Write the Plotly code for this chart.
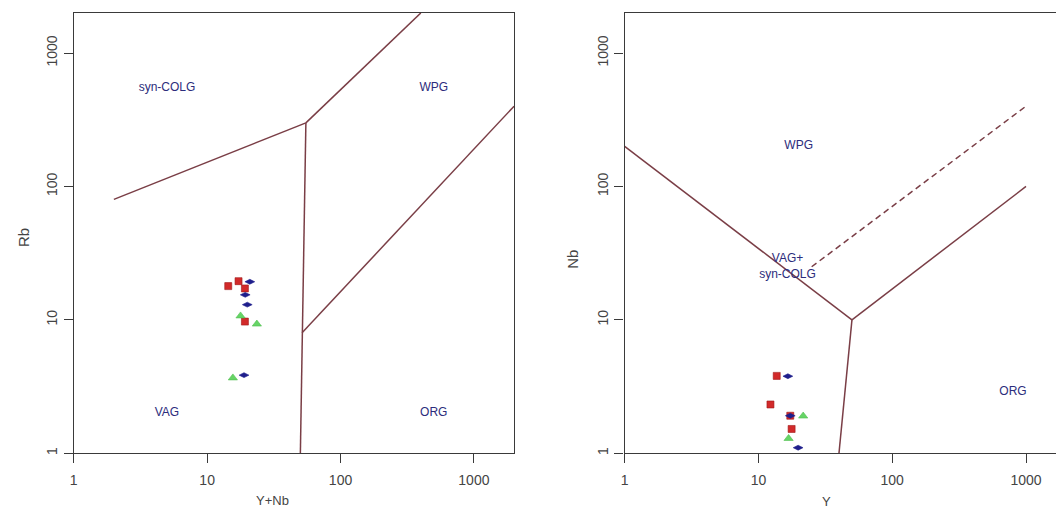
import math
import plotly.graph_objects as go

# ---------------- data ----------------
# Left diagram: Rb vs Y+Nb
left_red_x = [14.4, 17.2, 19.2, 19.2]
left_red_y = [17.9, 19.5, 17.2, 9.7]
left_blue_x = [20.9, 19.3, 20.0, 18.9]
left_blue_y = [19.3, 15.4, 13.0, 3.85]
left_green_x = [17.8, 23.6, 15.6]
left_green_y = [10.7, 9.3, 3.67]

# Right diagram: Nb vs Y
right_red_x = [13.7, 12.3, 17.3, 17.7]
right_red_y = [3.80, 2.32, 1.91, 1.52]
right_blue_x = [16.6, 17.3, 19.8]
right_blue_y = [3.78, 1.91, 1.10]
right_green_x = [21.6, 16.8]
right_green_y = [1.90, 1.29]

# Field boundaries (Pearce et al. 1984)
l_b1_x = [2, 55]; l_b1_y = [80, 300]
l_b2_x = [55, 51.5, 50]; l_b2_y = [300, 8, 1]
l_b3_x = [55, 400]; l_b3_y = [300, 2000]
l_b4_x = [51.5, 2000]; l_b4_y = [8, 400]

r_b1_x = [1, 50]; r_b1_y = [200, 10]
r_b2_x = [50, 40]; r_b2_y = [10, 1]
r_b3_x = [50, 1000]; r_b3_y = [10, 100]
r_dash_x = [25, 1000]; r_dash_y = [25, 400]

left_labels = ["syn-COLG", "WPG", "VAG", "ORG"]
left_label_x = [5.0, 500, 5.0, 500]
left_label_y = [550, 550, 2.0, 2.0]
right_labels = ["WPG", "VAG+<br>syn-COLG", "ORG"]
right_label_x = [20, 16.5, 800]
right_label_y = [200, 25, 2.9]

tick_vals = [1, 10, 100, 1000]
tick_text = ["1", "10", "100", "1000"]

# ---------------- styles ----------------
W, H = 1056, 510
LINE_COL = "#7a3e46"
AX_COL = "#3a3a3a"
TXT_COL = "#444444"
LAB_COL = "#2c2c7c"
RED = "#d22a2a"
BLUE = "#1e1e8c"
GREEN = "#66d466"
FONT = "Liberation Sans, Arial, sans-serif"

fig = go.Figure()


def add_line(x, y, xa, ya, dash="solid"):
    fig.add_trace(go.Scatter(x=x, y=y, mode="lines", xaxis=xa, yaxis=ya,
                             line=dict(color=LINE_COL, width=1.5, dash=dash),
                             hoverinfo="skip", showlegend=False))


def add_pts(x, y, xa, ya, sym, col, size, lcol):
    fig.add_trace(go.Scatter(x=x, y=y, mode="markers", xaxis=xa, yaxis=ya,
                             marker=dict(symbol=sym, color=col, size=size,
                                         line=dict(color=lcol, width=0.6)),
                             showlegend=False))


for bx, by in [(l_b1_x, l_b1_y), (l_b2_x, l_b2_y), (l_b3_x, l_b3_y), (l_b4_x, l_b4_y)]:
    add_line(bx, by, "x", "y")
for bx, by in [(r_b1_x, r_b1_y), (r_b2_x, r_b2_y), (r_b3_x, r_b3_y)]:
    add_line(bx, by, "x2", "y2")
add_line(r_dash_x, r_dash_y, "x2", "y2", dash="6px,4px")

add_pts(left_red_x, left_red_y, "x", "y", "square", RED, 7, "#a01818")
add_pts(left_blue_x, left_blue_y, "x", "y", "diamond-wide", BLUE, 7, BLUE)
add_pts(left_green_x, left_green_y, "x", "y", "triangle-up", GREEN, 8, "#4fc04f")
add_pts(right_red_x, right_red_y, "x2", "y2", "square", RED, 7, "#a01818")
add_pts(right_blue_x, right_blue_y, "x2", "y2", "diamond-wide", BLUE, 7, BLUE)
add_pts(right_green_x, right_green_y, "x2", "y2", "triangle-up", GREEN, 8, "#4fc04f")

fig.add_trace(go.Scatter(x=left_label_x, y=left_label_y, text=left_labels, mode="text",
                         xaxis="x", yaxis="y", textfont=dict(color=LAB_COL, size=12, family=FONT),
                         hoverinfo="skip", showlegend=False))
fig.add_trace(go.Scatter(x=right_label_x, y=right_label_y, text=right_labels, mode="text",
                         xaxis="x2", yaxis="y2", textfont=dict(color=LAB_COL, size=12, family=FONT),
                         hoverinfo="skip", showlegend=False))

# plot area pixels
L1, R1 = 70, 512
L2 = 623
TOP, BOT = 13, 455
x2max = 10 ** ((W - L2) / 134.3)

common = dict(type="log", showgrid=False, zeroline=False, showline=True, linecolor=AX_COL,
              linewidth=1.3, ticks="outside", ticklen=9, tickcolor=AX_COL, tickwidth=1.2,
              tickvals=tick_vals, ticktext=tick_text,
              tickfont=dict(family=FONT, size=14, color=TXT_COL))

fig.update_layout(
    width=W, height=H, margin=dict(l=0, r=0, t=0, b=0),
    paper_bgcolor="white", plot_bgcolor="white",
    xaxis=dict(domain=[L1 / W, R1 / W], range=[0, math.log10(2000)], anchor="y",
               mirror=True, ticklabelstandoff=5, **common),
    yaxis=dict(domain=[(H - BOT) / H, (H - TOP) / H], range=[0, math.log10(2000)], anchor="x",
               mirror=True, tickangle=-90, ticklabelstandoff=1, **common),
    xaxis2=dict(domain=[L2 / W, 1.0], range=[0, math.log10(x2max)], anchor="y2",
                mirror=True, ticklabelstandoff=5, **common),
    yaxis2=dict(domain=[(H - BOT) / H, (H - TOP) / H], range=[0, math.log10(2000)], anchor="x2",
                mirror=False, tickangle=-90, ticklabelstandoff=1, **common),
    annotations=[
        dict(text="Y+Nb", x=270 / W, y=(H - 502) / H, xref="paper", yref="paper",
             xanchor="center", yanchor="middle",
             showarrow=False, font=dict(family=FONT, size=13, color=TXT_COL)),
        dict(text="Rb", x=19 / W, y=(H - 238) / H, xref="paper", yref="paper",
             xanchor="center", yanchor="middle",
             showarrow=False, textangle=-90, font=dict(family=FONT, size=15, color=TXT_COL)),
        dict(text="Y", x=826 / W, y=(H - 503) / H, xref="paper", yref="paper",
             xanchor="center", yanchor="middle",
             showarrow=False, font=dict(family=FONT, size=13, color=TXT_COL)),
        dict(text="Nb", x=571 / W, y=(H - 260) / H, xref="paper", yref="paper",
             xanchor="center", yanchor="middle",
             showarrow=False, textangle=-90, font=dict(family=FONT, size=15, color=TXT_COL)),
    ],
)

fig.write_html("out.html")
